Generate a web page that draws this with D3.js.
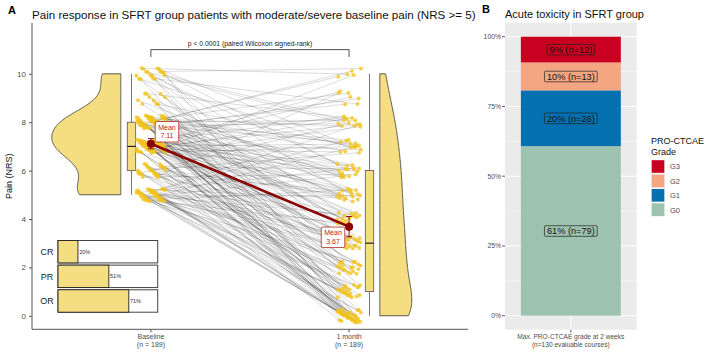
<!DOCTYPE html>
<html><head><meta charset="utf-8">
<script src="https://cdn.jsdelivr.net/npm/d3@7/dist/d3.min.js"></script>
<style>body{margin:0;background:#fff}svg{display:block;font-family:"Liberation Sans",Arial,sans-serif}</style>
</head><body><svg id="c" width="711" height="358"></svg>
<script>
// ---------------- DATA ----------------
const timepoints = ["Baseline", "1 month"];
const timeN = ["(n = 189)", "(n = 189)"];
const baselineLevels = [5, 6, 7, 8, 9, 10];
const monthLevels = [0, 1, 2, 3, 4, 5, 6, 7, 8, 9, 10];
// rows: baseline NRS 5..10 ; cols: 1-month NRS 0..10 (patient counts)
const transitionCounts = [
  [10, 6, 5, 5, 4, 3, 2, 2, 1, 0, 0],
  [5, 3, 3, 3, 2, 2, 2, 1, 1, 1, 0],
  [10, 6, 5, 5, 5, 5, 5, 4, 4, 2, 1],
  [7, 5, 4, 5, 5, 5, 5, 4, 4, 3, 2],
  [2, 1, 1, 1, 1, 1, 1, 1, 1, 0, 0],
  [2, 1, 2, 1, 1, 1, 2, 2, 2, 1, 2]
];
const meanLabels = ["7.11", "3.67"];
const yTicksA = [0, 2, 4, 6, 8, 10];
const pLabel = "p < 0.0001 (paired Wilcoxon signed-rank)";
const responseCats = ["CR", "PR", "OR"];
const responsePct = [20, 51, 71];

const grades = ["G3", "G2", "G1", "G0"];
const gradeCounts = [12, 13, 26, 79];
const gradeColors = ["#CA0020", "#F4A582", "#0571B0", "#9DC3B0"];
const toxTicks = [0, 0.25, 0.5, 0.75, 1];
const toxCategory = ["Max. PRO-CTCAE grade at 2 weeks", "(n=130 evaluable courses)"];

// ---------------- SETUP ----------------
const svg = d3.select("#c");
const FONT = "Liberation Sans, Arial, sans-serif";
const gold = "#F2C318", fillY = "#F5DE82", txtGrey = "#4D4D4D";

const patients = [];
transitionCounts.forEach((row, i) => row.forEach((c, j) => {
  for (let k = 0; k < c; k++) patients.push({ b: baselineLevels[i], m: monthLevels[j] });
}));
const frac = v => v - Math.floor(v);
patients.forEach((p, i) => {
  p.jbx = frac((i + 1) * 0.6180339887) * 2 - 1;
  p.jby = frac((i + 1) * 0.7548776662) * 2 - 1;
  p.jmx = frac((i + 1) * 0.5698402910 + 0.3) * 2 - 1;
  p.jmy = frac((i + 1) * 0.4142135624 + 0.6) * 2 - 1;
});
const bVals = patients.map(p => p.b), mVals = patients.map(p => p.m);

// ---------------- PANEL A ----------------
const xA = d3.scaleLinear().domain([0.4, 2.6]).range([32, 468]);
const yA = d3.scaleLinear().domain([-0.56, 12.1]).range([329.3, 23]);
const gA = svg.append("g");

svg.append("text").attr("x", 8).attr("y", 14).attr("font-size", 11).attr("font-weight", "bold").text("A");
svg.append("text").attr("x", 32).attr("y", 19).attr("font-size", 11.6).attr("fill", "#111")
  .text("Pain response in SFRT group patients with moderate/severe baseline pain (NRS >= 5)");

const yAx = gA.append("g").attr("transform", "translate(32,0)")
  .call(d3.axisLeft(yA).tickValues(yTicksA).tickSize(3).tickFormat(d3.format("d")));
yAx.select(".domain").attr("stroke", "#555").attr("d", `M0,${yA.range()[0]}V${yA.range()[1]}`);
yAx.selectAll(".tick line").attr("stroke", "#555");
yAx.selectAll("text").attr("font-size", 8).attr("fill", txtGrey).attr("font-family", FONT);
gA.append("text").attr("transform", `translate(12,${(yA.range()[0] + yA.range()[1]) / 2}) rotate(-90)`)
  .attr("text-anchor", "middle").attr("font-size", 9).attr("fill", "#111").text("Pain (NRS)");

gA.append("line").attr("x1", 32).attr("x2", 468).attr("y1", 329.3).attr("y2", 329.3).attr("stroke", "#555");
timepoints.forEach((t, i) => {
  const x = xA(i + 1);
  gA.append("line").attr("x1", x).attr("x2", x).attr("y1", 329.3).attr("y2", 332.3).attr("stroke", "#555");
  gA.append("text").attr("x", x).attr("y", 338.5).attr("text-anchor", "middle").attr("font-size", 7).attr("fill", txtGrey).text(t);
  gA.append("text").attr("x", x).attr("y", 346.5).attr("text-anchor", "middle").attr("font-size", 7).attr("fill", txtGrey).text(timeN[i]);
});

const jitW = 0.075, jitH = 0.28;
const bx = p => xA(1 + p.jbx * jitW), by = p => yA(p.b + p.jby * jitH);
const mx = p => xA(2 + p.jmx * 0.06), my = p => yA(p.m + p.jmy * jitH);
gA.append("g").selectAll("line").data(patients).join("line")
  .attr("x1", bx).attr("y1", by).attr("x2", mx).attr("y2", my)
  .attr("stroke", "#000").attr("stroke-opacity", 0.24).attr("stroke-width", 0.6);

function nrd0(v) {
  const s = v.slice().sort(d3.ascending);
  const q = (d3.quantile(s, 0.75) - d3.quantile(s, 0.25)) / 1.34;
  return 0.9 * Math.min(d3.deviation(v), q) * Math.pow(v.length, -0.2);
}
function kde(v, adjust) {
  const bw = nrd0(v) * adjust, lo = d3.min(v), hi = d3.max(v);
  const pts = d3.range(0, 201).map(i => lo + (hi - lo) * i / 200);
  return pts.map(y => [y, d3.mean(v, d => Math.exp(-0.5 * ((y - d) / bw) ** 2)) / (bw * Math.sqrt(2 * Math.PI))]);
}
const kb = kde(bVals, 1.3), km = kde(mVals, 1);
const kbS = 69 / d3.max(kb, d => d[1]), kmS = 32 / d3.max(km, d => d[1]);
const xbFlat = xA(1 - 0.152);
gA.append("path").attr("d",
  d3.area().x0(xbFlat).x1(d => xbFlat - d[1] * kbS).y(d => yA(d[0])).curve(d3.curveBasis)(kb))
  .attr("fill", fillY).attr("stroke", "#333").attr("stroke-width", 0.8);
const xmFlat = xA(2 + 0.155);
gA.append("path").attr("d",
  d3.area().x0(xmFlat).x1(d => xmFlat + d[1] * kmS).y(d => yA(d[0])).curve(d3.curveBasis)(km))
  .attr("fill", fillY).attr("stroke", "#333").attr("stroke-width", 0.8);

function boxplot(v, cx) {
  const s = v.slice().sort(d3.ascending);
  const q1 = d3.quantile(s, 0.25), q2 = d3.quantile(s, 0.5), q3 = d3.quantile(s, 0.75), iqr = q3 - q1;
  const lo = d3.min(s.filter(d => d >= q1 - 1.5 * iqr)), hi = d3.max(s.filter(d => d <= q3 + 1.5 * iqr));
  const w = 8.4, x = xA(cx);
  gA.append("line").attr("x1", x).attr("x2", x).attr("y1", yA(hi)).attr("y2", yA(lo)).attr("stroke", "#777").attr("stroke-width", 1);
  gA.append("rect").attr("x", x - w / 2).attr("width", w).attr("y", yA(q3)).attr("height", yA(q1) - yA(q3))
    .attr("fill", fillY).attr("stroke", "#555").attr("stroke-width", 0.8);
  gA.append("line").attr("x1", x - w / 2).attr("x2", x + w / 2).attr("y1", yA(q2)).attr("y2", yA(q2)).attr("stroke", "#222").attr("stroke-width", 1.2);
}
boxplot(bVals, 1 - 0.098);
boxplot(mVals, 2 + 0.103);

gA.append("g").selectAll("circle").data(patients).join("circle")
  .attr("cx", bx).attr("cy", by).attr("r", 2).attr("fill", gold).attr("fill-opacity", 0.75);
gA.append("g").selectAll("circle").data(patients).join("circle")
  .attr("cx", mx).attr("cy", my).attr("r", 2).attr("fill", gold).attr("fill-opacity", 0.75);

const stats = [bVals, mVals].map((v, i) => {
  const m = d3.mean(v), se = d3.deviation(v) / Math.sqrt(v.length);
  return { x: i + 1, m, lo: m - 1.96 * se, hi: m + 1.96 * se };
});
gA.append("line").attr("x1", xA(1)).attr("y1", yA(stats[0].m)).attr("x2", xA(2)).attr("y2", yA(stats[1].m))
  .attr("stroke", "#8B0000").attr("stroke-width", 2.6);
stats.forEach(s => {
  const x = xA(s.x);
  gA.append("path").attr("d", `M${x},${yA(s.hi)}V${yA(s.lo)}M${x - 3},${yA(s.hi)}H${x + 3}M${x - 3},${yA(s.lo)}H${x + 3}`)
    .attr("stroke", "#8B0000").attr("stroke-width", 0.9).attr("fill", "none");
  gA.append("circle").attr("cx", x).attr("cy", yA(s.m)).attr("r", 4).attr("fill", "#8B0000");
});
function meanLabel(s, txt, dx, dy, anchorRight, anchorBottom) {
  const w = 23.5, h = 20.5;
  const x0 = xA(s.x) + dx - (anchorRight ? w : 0);
  const y0 = yA(s.m) + dy - (anchorBottom ? h : 0);
  gA.append("rect").attr("x", x0).attr("y", y0).attr("width", w).attr("height", h).attr("rx", 1.5)
    .attr("fill", "#fff").attr("stroke", "#B22222").attr("stroke-width", 0.8);
  gA.append("text").attr("x", x0 + w / 2).attr("y", y0 + 8.3).attr("text-anchor", "middle").attr("font-size", 7).attr("fill", "#B22222").text("Mean");
  gA.append("text").attr("x", x0 + w / 2).attr("y", y0 + 16.8).attr("text-anchor", "middle").attr("font-size", 7).attr("fill", "#B22222").text(txt);
}
meanLabel(stats[0], meanLabels[0], 4.3, -1.7, false, true);
meanLabel(stats[1], meanLabels[1], -4.3, 0.4, true, false);

const bx1 = xA(1), bx2 = xA(2);
gA.append("path").attr("d", `M${bx1},${yA(10.7)}V${yA(11)}H${bx2}V${yA(10.7)}`).attr("fill", "none").attr("stroke", "#222").attr("stroke-width", 0.8);
gA.append("text").attr("x", (bx1 + bx2) / 2).attr("y", yA(11) - 3.5).attr("text-anchor", "middle").attr("font-size", 6.8).attr("fill", "#222").text(pLabel);

const insX = d3.scaleLinear().domain([0, 100]).range([58, 157.7]);
const insY = d3.scaleBand().domain(responseCats).range([240.5, 312.2]).paddingInner(0.09);
responseCats.forEach((c, i) => {
  const y = insY(c), h = insY.bandwidth();
  gA.append("rect").attr("x", insX(0)).attr("y", y).attr("width", insX(100) - insX(0)).attr("height", h)
    .attr("fill", "#fff").attr("stroke", "#444").attr("stroke-width", 1);
  gA.append("rect").attr("x", insX(0)).attr("y", y).attr("width", insX(responsePct[i]) - insX(0)).attr("height", h)
    .attr("fill", fillY).attr("stroke", "#222").attr("stroke-width", 0.9);
  gA.append("text").attr("x", insX(responsePct[i]) + 1.2).attr("y", y + h / 2 + 2).attr("font-size", 5.5).attr("fill", "#333").text(responsePct[i] + "%");
  gA.append("text").attr("x", 47).attr("y", y + h / 2 + 3.3).attr("text-anchor", "middle").attr("font-size", 9).attr("fill", "#222").text(c);
});

// ---------------- PANEL B ----------------
const gB = svg.append("g");
svg.append("text").attr("x", 482).attr("y", 13).attr("font-size", 11).attr("font-weight", "bold").text("B");
svg.append("text").attr("x", 505).attr("y", 18).attr("font-size", 11).attr("fill", "#111").text("Acute toxicity in SFRT group");

const pL = 505, pR = 636.7;
const yB = d3.scaleLinear().domain([-0.05, 1.05]).range([329.65, 22.75]);
gB.append("rect").attr("x", pL).attr("y", yB.range()[1]).attr("width", pR - pL).attr("height", yB.range()[0] - yB.range()[1]).attr("fill", "#EBEBEB");
d3.range(0.125, 1, 0.25).forEach(t => gB.append("line").attr("x1", pL).attr("x2", pR).attr("y1", yB(t)).attr("y2", yB(t)).attr("stroke", "#fff").attr("stroke-width", 0.5));
toxTicks.forEach(t => gB.append("line").attr("x1", pL).attr("x2", pR).attr("y1", yB(t)).attr("y2", yB(t)).attr("stroke", "#fff").attr("stroke-width", 1));
const cx = (pL + pR) / 2;
gB.append("line").attr("x1", cx).attr("x2", cx).attr("y1", yB.range()[0]).attr("y2", yB.range()[1]).attr("stroke", "#fff").attr("stroke-width", 1);

const total = d3.sum(gradeCounts);
const barW = (pR - pL) / 1.2 * 0.9 * 1.012;
let cum = 0;
const segs = grades.map((g, i) => ({ g, n: gradeCounts[i], col: gradeColors[i] })).reverse().map(s => {
  const o = { ...s, y0: cum / total, y1: (cum + s.n) / total }; cum += s.n; return o;
});
segs.forEach(s => {
  gB.append("rect").attr("x", cx - barW / 2).attr("width", barW).attr("y", yB(s.y1)).attr("height", yB(s.y0) - yB(s.y1)).attr("fill", s.col);
});
segs.forEach(s => {
  const lbl = `${Math.round(s.n / total * 100)}% (n=${s.n})`;
  const ym = (yB(s.y0) + yB(s.y1)) / 2;
  const t = gB.append("text").attr("x", cx).attr("y", ym + 3.3).attr("text-anchor", "middle").attr("font-size", 9.2).attr("fill", "#111").text(lbl);
  const bb = t.node().getBBox();
  gB.insert("rect", () => t.node()).attr("x", bb.x - 2.5).attr("y", ym - 5.2).attr("width", bb.width + 5).attr("height", 10.6)
    .attr("rx", 1).attr("fill", s.col).attr("stroke", "#222").attr("stroke-width", 0.7);
});
toxTicks.forEach(t => {
  gB.append("line").attr("x1", pL - 3).attr("x2", pL).attr("y1", yB(t)).attr("y2", yB(t)).attr("stroke", "#333").attr("stroke-width", 0.8);
  gB.append("text").attr("x", pL - 4).attr("y", yB(t) + 2.4).attr("text-anchor", "end").attr("font-size", 6.8).attr("fill", txtGrey).text(d3.format(".0%")(t));
});
gB.append("line").attr("x1", cx).attr("x2", cx).attr("y1", yB.range()[0]).attr("y2", yB.range()[0] + 3).attr("stroke", "#333").attr("stroke-width", 0.8);
gB.append("text").attr("x", cx).attr("y", 338.5).attr("text-anchor", "middle").attr("font-size", 6.6).attr("fill", txtGrey).text(toxCategory[0]);
gB.append("text").attr("x", cx).attr("y", 346.5).attr("text-anchor", "middle").attr("font-size", 6.6).attr("fill", txtGrey).text(toxCategory[1]);

const lg = svg.append("g");
lg.append("text").attr("x", 651).attr("y", 143.5).attr("font-size", 9).attr("fill", "#111").text("PRO-CTCAE");
lg.append("text").attr("x", 651).attr("y", 154.5).attr("font-size", 9).attr("fill", "#111").text("Grade");
grades.forEach((g, i) => {
  const y = 159.5 + i * 14.4;
  lg.append("rect").attr("x", 651).attr("y", y).attr("width", 14).attr("height", 14).attr("fill", "#F2F2F2");
  lg.append("rect").attr("x", 651.7).attr("y", y + 0.7).attr("width", 12.6).attr("height", 12.6).attr("fill", gradeColors[i]);
  lg.append("text").attr("x", 670).attr("y", y + 9.8).attr("font-size", 7.5).attr("fill", txtGrey).text(g);
});
</script></body></html>
